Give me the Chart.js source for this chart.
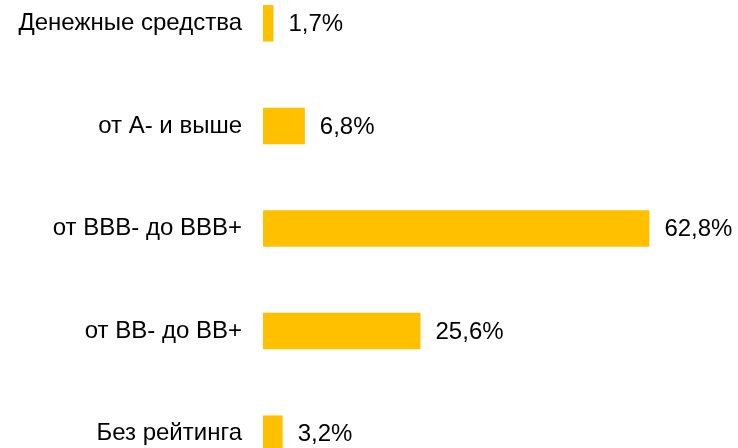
<!DOCTYPE html>
<html>
<head>
<meta charset="utf-8">
<script src="https://cdn.jsdelivr.net/npm/chart.js@4"></script>
<style>
  html, body { margin: 0; padding: 0; background: #ffffff; overflow: hidden; }
  #wrap { position: absolute; left: 0; top: -28px; width: 738px; height: 513px; }
</style>
</head>
<body>
<div id="wrap"><canvas id="graficoRating"></canvas></div>
<script>
const categorias = ['Денежные средства', 'от А- и выше', 'от BBB- до BBB+', 'от BB- до BB+', 'Без рейтинга'];
const valores = [1.7, 6.8, 62.8, 25.6, 3.2];
const corBarra = '#FFC000';
const fonte = "'Liberation Sans', Arial, sans-serif";

function formataPercentual(v) {
  return v.toFixed(1).replace('.', ',') + '%';
}

// escreve o valor à direita de cada barra
const rotulosValores = {
  id: 'rotulosValores',
  afterDatasetsDraw(chart) {
    const ctx = chart.ctx;
    const meta = chart.getDatasetMeta(0);
    ctx.save();
    ctx.font = '24px ' + fonte;
    ctx.fillStyle = '#000000';
    ctx.textAlign = 'left';
    ctx.textBaseline = 'middle';
    meta.data.forEach((barra, i) => {
      ctx.fillText(formataPercentual(valores[i]), barra.x + 15, barra.y + 1);
    });
    ctx.restore();
  }
};

const data = {
  labels: categorias,
  datasets: [{
    data: valores,
    backgroundColor: corBarra,
    borderWidth: 0,
    categoryPercentage: 1,
    barPercentage: 0.356
  }]
};

const config = {
  type: 'bar',
  data: data,
  options: {
    indexAxis: 'y',
    responsive: true,
    maintainAspectRatio: false,
    animation: false,
    layout: { padding: 0 },
    plugins: {
      legend: { display: false },
      tooltip: { enabled: false }
    },
    scales: {
      x: {
        display: false,
        min: 0,
        max: 77.2
      },
      y: {
        grid: { display: false, drawTicks: false },
        border: { display: false },
        ticks: {
          color: '#000000',
          padding: 21,
          font: { family: fonte, size: 24 }
        },
        afterFit(escala) {
          escala.width = 263;
          escala.paddingTop = 0;
          escala.paddingBottom = 0;
        }
      }
    }
  },
  plugins: [rotulosValores]
};

new Chart(document.getElementById('graficoRating'), config);
</script>
</body>
</html>
